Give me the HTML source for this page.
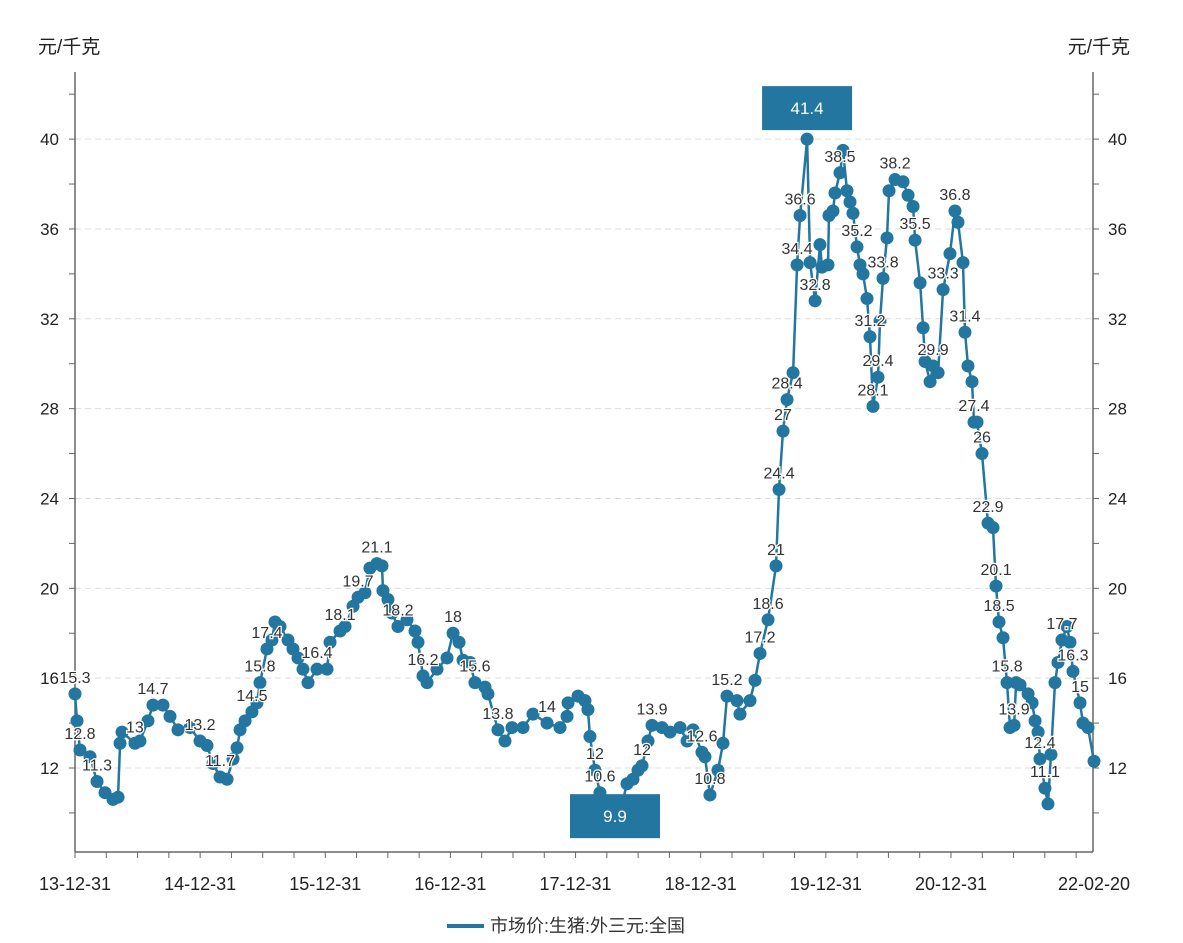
<!DOCTYPE html>
<html><head><meta charset="utf-8">
<style>
body{margin:0;background:#fff;}
svg{display:block;font-family:"Liberation Sans","Noto Sans CJK SC",sans-serif;}
</style></head>
<body>
<svg id="chart" width="1183" height="943" xmlns="http://www.w3.org/2000/svg">
<text x="38" y="53" font-size="19" fill="#222">元/千克</text>
<text x="1130" y="53" font-size="19" fill="#222" text-anchor="end">元/千克</text>
<g id="grid"></g>
<g id="axes"></g>
<g id="series"></g>
<g id="labels"></g>
<g id="marks"></g>
<g>
<line x1="447" y1="926" x2="484" y2="926" stroke="#22769f" stroke-width="4"/>
<text x="490" y="932" font-size="18" fill="#333">市场价:生猪:外三元:全国</text>
</g>
</svg>
<script>
const dates=[2014.000,2014.016,2014.040,2014.120,2014.176,2014.240,2014.304,2014.344,2014.360,2014.376,2014.479,2014.519,2014.583,2014.623,2014.703,2014.759,2014.823,2014.919,2014.999,2015.055,2015.103,2015.159,2015.215,2015.263,2015.295,2015.319,2015.359,2015.414,2015.454,2015.478,2015.534,2015.574,2015.598,2015.638,2015.702,2015.742,2015.782,2015.822,2015.862,2015.934,2016.014,2016.038,2016.118,2016.158,2016.222,2016.262,2016.317,2016.357,2016.413,2016.453,2016.461,2016.501,2016.533,2016.581,2016.653,2016.717,2016.741,2016.781,2016.813,2016.893,2016.973,2017.021,2017.069,2017.101,2017.157,2017.196,2017.276,2017.300,2017.380,2017.436,2017.492,2017.580,2017.660,2017.772,2017.876,2017.932,2017.940,2018.020,2018.075,2018.099,2018.115,2018.155,2018.195,2018.259,2018.315,2018.371,2018.411,2018.459,2018.499,2018.531,2018.579,2018.611,2018.691,2018.755,2018.835,2018.891,2018.939,2019.010,2019.034,2019.074,2019.138,2019.178,2019.210,2019.290,2019.314,2019.394,2019.434,2019.474,2019.538,2019.602,2019.626,2019.658,2019.690,2019.738,2019.770,2019.794,2019.850,2019.874,2019.914,2019.953,2019.969,2020.017,2020.025,2020.057,2020.073,2020.113,2020.137,2020.169,2020.193,2020.217,2020.249,2020.273,2020.297,2020.329,2020.353,2020.377,2020.417,2020.433,2020.457,2020.489,2020.505,2020.553,2020.617,2020.657,2020.697,2020.713,2020.753,2020.777,2020.793,2020.833,2020.857,2020.897,2020.937,2020.992,2021.032,2021.056,2021.096,2021.112,2021.136,2021.168,2021.184,2021.208,2021.248,2021.296,2021.336,2021.360,2021.384,2021.416,2021.448,2021.472,2021.504,2021.520,2021.552,2021.616,2021.648,2021.672,2021.696,2021.711,2021.751,2021.775,2021.799,2021.831,2021.855,2021.887,2021.927,2021.951,2021.975,2022.031,2022.055,2022.095,2022.143];
const values=[15.3,14.1,12.8,12.5,11.4,10.9,10.6,10.7,13.1,13.6,13.1,13.2,14.1,14.8,14.8,14.3,13.7,13.8,13.2,13.0,12.2,11.6,11.5,12.4,12.9,13.7,14.1,14.5,14.9,15.8,17.3,17.7,18.5,18.3,17.7,17.3,16.9,16.4,15.8,16.4,16.4,17.6,18.1,18.3,19.2,19.6,19.8,20.9,21.1,21.0,19.9,19.5,18.9,18.3,18.6,18.1,17.6,16.1,15.8,16.4,16.9,18.0,17.6,16.8,16.7,15.8,15.6,15.3,13.7,13.2,13.8,13.8,14.4,14.0,13.8,14.3,14.9,15.2,15.0,14.6,13.4,11.9,10.9,10.3,9.9,10.4,11.3,11.5,11.9,12.1,13.2,13.9,13.8,13.6,13.8,13.2,13.7,12.7,12.5,10.8,11.9,13.1,15.2,15.0,14.4,15.0,15.9,17.1,18.6,21.0,24.4,27.0,28.4,29.6,34.4,36.6,40.0,34.5,32.8,35.3,34.3,34.4,36.6,36.8,37.6,38.5,39.5,37.7,37.2,36.7,35.2,34.4,34.0,32.9,31.2,28.1,29.4,31.9,33.8,35.6,37.7,38.2,38.1,37.5,37.0,35.5,33.6,31.6,30.1,29.2,29.9,29.6,33.3,34.9,36.8,36.3,34.5,31.4,29.9,29.2,27.4,27.4,26.0,22.9,22.7,20.1,18.5,17.8,15.8,13.8,13.9,15.8,15.7,15.3,14.9,14.1,13.6,12.4,11.1,10.4,12.6,15.8,16.7,17.7,18.3,17.6,16.3,14.9,14.0,13.8,12.3];
const labelDates=[2014.000,2014.040,2014.176,2014.479,2014.623,2014.999,2015.159,2015.414,2015.478,2015.534,2015.934,2016.118,2016.262,2016.413,2016.581,2016.781,2017.021,2017.196,2017.380,2017.772,2018.155,2018.195,2018.531,2018.611,2019.010,2019.074,2019.210,2019.474,2019.538,2019.602,2019.626,2019.658,2019.690,2019.770,2019.794,2019.914,2020.113,2020.249,2020.353,2020.377,2020.417,2020.457,2020.553,2020.713,2020.857,2020.937,2021.032,2021.112,2021.184,2021.248,2021.296,2021.360,2021.384,2021.448,2021.504,2021.711,2021.751,2021.887,2021.975,2022.031];
const labelTexts=["15.3","12.8","11.3","13","14.7","13.2","11.7","14.5","15.8","17.4","16.4","18.1","19.7","21.1","18.2","16.2","18","15.6","13.8","14","12","10.6","12","13.9","12.6","10.8","15.2","17.2","18.6","21","24.4","27","28.4","34.4","36.6","32.8","38.5","35.2","31.2","28.1","29.4","33.8","38.2","35.5","29.9","33.3","36.8","31.4","27.4","26","22.9","20.1","18.5","15.8","13.9","12.4","11.1","17.7","16.3","15"];
const yTicks=[12,16,20,24,28,32,36,40];
const xTickLabels=["13-12-31","14-12-31","15-12-31","16-12-31","17-12-31","18-12-31","19-12-31","20-12-31"];
const xTickDates=[2014,2015,2016,2017,2018,2019,2020,2021];
const endLabel="22-02-20", endDate=2022.143;
const maxText="41.4", minText="9.9";

const NS="http://www.w3.org/2000/svg";
const L=75,R=1093,T=72,B=852;
const x=d=>L+(d-2014)*125.14;
const y=v=>768-(v-12)*22.46;
function mk(tag,attrs,parent){const e=document.createElementNS(NS,tag);for(const k in attrs)e.setAttribute(k,attrs[k]);document.getElementById(parent).appendChild(e);return e;}

yTicks.forEach(v=>{
 const g=mk('line',{x1:L,x2:R,y1:y(v),y2:y(v),stroke:'#ddd','stroke-dasharray':'6,4','stroke-width':1},'grid');
 
 
 const t1=mk('text',{x:L-16,y:y(v)+6,'font-size':17,'text-anchor':'end',fill:'#222'},'axes');t1.textContent=v;
 
 
 const t2=mk('text',{x:R+15,y:y(v)+6,'font-size':17,fill:'#222'},'axes');t2.textContent=v;
 
 
});
for(let v=9;v<=42;v+=1){
 const yy=768-(v-12)*22.46/ (1) ;
}
for(let v=10;v<=42;v+=2){
 const yy=y(v); if(yy<T||yy>B)continue;
 mk('line',{x1:L-6,x2:L,y1:yy,y2:yy,stroke:'#666'},'axes');
 mk('line',{x1:R,x2:R+6,y1:yy,y2:yy,stroke:'#666'},'axes');
}
mk('line',{x1:L,x2:L,y1:T,y2:B,stroke:'#666','stroke-width':1.5},'axes');
mk('line',{x1:R,x2:R,y1:T,y2:B,stroke:'#666','stroke-width':1.5},'axes');
mk('line',{x1:L,x2:R,y1:B,y2:B,stroke:'#666','stroke-width':1.5},'axes');
for(let d=2014;d<=2022.15;d+=0.25){mk('line',{x1:x(d),x2:x(d),y1:B,y2:B+6,stroke:'#666'},'axes');}
xTickDates.forEach((d,i)=>{
 const t=mk('text',{x:x(d),y:890,'font-size':18,'text-anchor':'middle',fill:'#222'},'axes');t.textContent=xTickLabels[i];
 
 
});
const te=mk('text',{x:x(endDate),y:890,'font-size':18,'text-anchor':'middle',fill:'#222'},'axes');te.textContent=endLabel;



const pts=dates.map((d,i)=>x(d).toFixed(1)+','+y(values[i]).toFixed(1)).join(' ');
const pl=mk('polyline',{points:pts,fill:'none',stroke:'#22769f','stroke-width':2.5,'stroke-linejoin':'round'},'series');


dates.forEach((d,i)=>{
 const c=mk('circle',{cx:x(d),cy:y(values[i]),r:6.5,fill:'#22769f'},'series');
 
 
});
function nearest(d){let b=0;dates.forEach((dd,i)=>{if(Math.abs(dd-d)<Math.abs(dates[b]-d))b=i;});return b;}
labelDates.forEach((d,i)=>{
 const k=nearest(d);
 const t=mk('text',{x:x(dates[k]),y:y(values[k])-11,'font-size':16,'text-anchor':'middle',fill:'#333',stroke:'#fff','stroke-width':2.5,'paint-order':'stroke'},'labels');
 t.textContent=labelTexts[i];
 
 
});
let mi=0,ma=0;values.forEach((v,i)=>{if(v>values[ma])ma=i;if(v<values[mi])mi=i;});
function box(i,txt,above,name){
 const cx=x(dates[i]);const by=above?y(values[i])-53:y(values[i])-21;
 const r=mk('rect',{x:cx-45,y:by,width:90,height:44,fill:'#22769f'},'marks');
 
 
 const t=mk('text',{x:cx,y:by+28,'font-size':17,'text-anchor':'middle',fill:'#fff'},'marks');t.textContent=txt;
 
 
}
box(ma,maxText,true,'max-value');
box(mi,minText,false,'min-value');
</script>
</body></html>
